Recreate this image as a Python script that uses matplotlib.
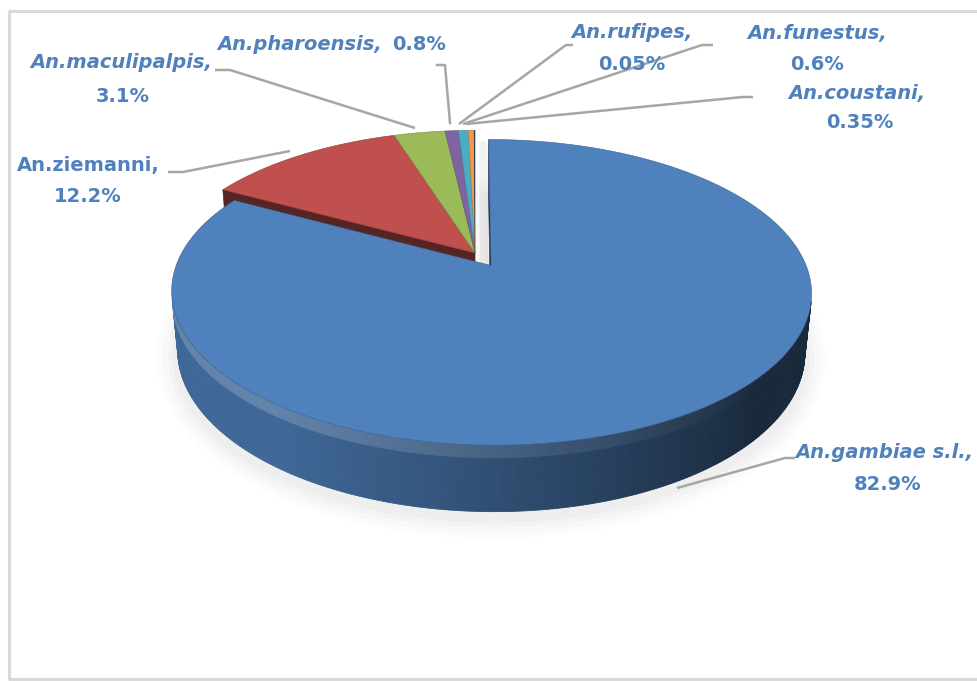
import numpy as np
import matplotlib
matplotlib.use("Agg")
import matplotlib.pyplot as plt
from matplotlib.patches import Polygon
from matplotlib.colors import to_rgb

# ---- data -------------------------------------------------------------
species = ["An.gambiae s.l.,", "An.ziemanni,", "An.maculipalpis,", "An.pharoensis,",
           "An.funestus,", "An.coustani,", "An.rufipes,"]
shares = [82.9, 12.2, 3.1, 0.8, 0.6, 0.35, 0.05]
pct_labels = ["82.9%", "12.2%", "3.1%", "0.8%", "0.6%", "0.35%", "0.05%"]
colors = ["#4F81BD", "#C0504D", "#9BBB59", "#8064A2", "#4BACC6", "#F79646", "#2C4D75"]
explode = [0.10, 0, 0, 0, 0, 0, 0]

# ---- 3D view settings -------------------------------------------------
ELEV = np.radians(27.6)
DIST = 5.14
FOCAL = 1595.0
THICK = 0.215
CX, CY = 475.0, 253.0
COS_E, SIN_E = np.cos(ELEV), np.sin(ELEV)
CAMERA = np.array([0.0, -DIST * COS_E, DIST * SIN_E])


def project(x, y, z):
    x, y, z = np.asarray(x, float), np.asarray(y, float), np.asarray(z, float)
    vy = y + DIST * COS_E
    vz = z - DIST * SIN_E
    depth = vy * COS_E - vz * SIN_E
    up = vy * SIN_E + vz * COS_E
    return CX + FOCAL * x / depth, CY - FOCAL * up / depth


def mix(c1, c2, t):
    a, b = np.array(to_rgb(c1)), np.array(to_rgb(c2))
    return tuple(a + (b - a) * t)


fig = plt.figure(figsize=(9.77, 6.81), dpi=100)
ax = fig.add_axes([0, 0, 1, 1])
ax.set_xlim(0, 977)
ax.set_ylim(681, 0)
ax.axis("off")

# chart frame (runs off the right edge)
ax.plot([1000, 8.5, 8.5, 1000], [10.5, 10.5, 678.5, 678.5], color="#d9d9d9", lw=2.2, zorder=0)

# ---- slice geometry ---------------------------------------------------
total = float(sum(shares))
cum = np.concatenate([[0], np.cumsum(shares)]) / total
n_sl = len(shares)
slices = []
for i, v in enumerate(shares):
    t1 = np.radians(90 - 360 * cum[i])       # start (larger angle)
    t2 = np.radians(90 - 360 * cum[i + 1])   # end (clockwise)
    mid = 0.5 * (t1 + t2)
    off = explode[i] * np.array([np.cos(mid), np.sin(mid)])
    slices.append(dict(i=i, t1=t1, t2=t2, off=off))

LIGHT = np.array([-1.0, -0.2])
LIGHT /= np.linalg.norm(LIGHT)


def shade(i, n):
    base = colors[i]
    dark = mix(base, "#000000", 0.68)
    light = mix(base, "#000000", 0.2)
    t = np.clip(0.45 + 0.75 * np.dot(n, LIGHT), 0, 1)
    return mix(dark, light, t), t


def draw_shadow(s):
    # soft drop shadow under the base of a slice
    ox, oy = s["off"]
    th = np.linspace(s["t1"], s["t2"], 200)
    xs = np.concatenate([[ox], ox + np.cos(th)])
    ys = np.concatenate([[oy], oy + np.sin(th)])
    px, py = project(xs, ys, np.full_like(xs, -THICK))
    py = py + 6
    for lw, a in ((30, 0.02), (22, 0.03), (14, 0.035), (7, 0.045)):
        ax.add_patch(Polygon(np.column_stack([px, py]), closed=True, facecolor="none",
                             edgecolor="#808080", lw=lw, alpha=a, joinstyle="round", zorder=1))
    # faint shade in the gap along the vertical cut
    gx, gy = project([ox - 0.02, ox - 0.02, ox - 0.02], [oy, oy + 0.45, oy + 0.95], [-THICK, -THICK, 0])
    ax.plot(gx, gy, color="#9a9a9a", lw=6, alpha=0.12, solid_capstyle="round", zorder=1)


def draw_walls(s):
    i, t1, t2 = s["i"], s["t1"], s["t2"]
    ox, oy = s["off"]
    # radial cut faces, only where the neighbouring slice is pulled apart
    prev_i, next_i = (i - 1) % n_sl, (i + 1) % n_sl
    for ang, nang, nb in ((t1, t1 + np.pi / 2, prev_i), (t2, t2 - np.pi / 2, next_i)):
        if explode[nb] == explode[i]:
            continue
        n = np.array([np.cos(nang), np.sin(nang)])
        p = np.array([ox + 0.5 * np.cos(ang), oy + 0.5 * np.sin(ang)])
        if np.dot(CAMERA[:2] - p, n) <= 0:
            continue
        xs = [ox, ox + np.cos(ang), ox + np.cos(ang), ox]
        ys = [oy, oy + np.sin(ang), oy + np.sin(ang), oy]
        zs = [0, 0, -THICK, -THICK]
        px, py = project(xs, ys, zs)
        c = mix(colors[i], "#000000", 0.55)
        ax.add_patch(Polygon(np.column_stack([px, py]), closed=True, facecolor=c,
                             edgecolor=c, lw=0.5, zorder=2))
    # outer curved wall, drawn in thin strips
    th = np.linspace(t2, t1, max(4, int(abs(t1 - t2) / np.radians(0.8))))
    for a, b in zip(th[:-1], th[1:]):
        m = 0.5 * (a + b)
        n = np.array([np.cos(m), np.sin(m)])
        p = np.array([ox + n[0], oy + n[1]])
        if np.dot(CAMERA[:2] - p, n) <= 0:
            continue
        c, t = shade(i, n)
        rim = mix(c, "#ffffff", 0.18 * t)
        xs = [ox + np.cos(a), ox + np.cos(b), ox + np.cos(b), ox + np.cos(a)]
        ys = [oy + np.sin(a), oy + np.sin(b), oy + np.sin(b), oy + np.sin(a)]
        for z0, z1, col in ((-0.04, -THICK, c), (0.0, -0.04, rim)):
            px, py = project(xs, ys, [z0, z0, z1, z1])
            ax.add_patch(Polygon(np.column_stack([px, py]), closed=True, facecolor=col,
                                 edgecolor=col, lw=0.6, zorder=2))


def draw_top(s):
    i = s["i"]
    ox, oy = s["off"]
    th = np.linspace(s["t1"], s["t2"], max(3, int(abs(s["t1"] - s["t2"]) / np.radians(0.5))))
    xs = np.concatenate([[ox], ox + np.cos(th)])
    ys = np.concatenate([[oy], oy + np.sin(th)])
    px, py = project(xs, ys, np.zeros_like(xs))
    ax.add_patch(Polygon(np.column_stack([px, py]), closed=True, facecolor=colors[i],
                         edgecolor=mix(colors[i], "#000000", 0.25), lw=0.4, zorder=3))


still = [s for s in slices if explode[s["i"]] == 0]
moved = sorted([s for s in slices if explode[s["i"]] != 0], key=lambda s: -s["off"][1])

for s in moved:
    draw_shadow(s)
for s in still:
    draw_walls(s)
for s in still:
    draw_top(s)
for s in moved:
    draw_walls(s)
    draw_top(s)

# ---- labels -----------------------------------------------------------
TXT = "#4f81bd"
LINE = "#a6a6a6"
FONT = ["DejaVu Sans"]
FS = 14

# (name centre, pct centre, leader polyline, name italic)
label_layout = {
    0: ((884, 452), (888, 484), [(795, 458), (785, 458), (677, 488)], True),
    1: ((88, 165), (88, 196), [(168, 172), (183, 172), (290, 151)], False),
    2: ((121, 63), (123, 96), [(215, 70), (230, 70), (415, 128)], True),
    4: ((817, 33), (817, 64), [(713, 45), (702, 45), (463, 124)], True),
    5: ((857, 93), (860, 122), [(753, 97), (743, 97), (466, 124)], True),
    6: ((632, 33), (632, 64), [(573, 45), (566, 45), (459, 124)], True),
}
for i, (p_name, p_pct, pts, ital) in label_layout.items():
    xs, ys = zip(*pts)
    ax.plot(xs, ys, color=LINE, lw=1.8, zorder=4, solid_capstyle="butt")
    ax.text(*p_name, species[i], ha="center", va="center", fontsize=FS, color=TXT,
            fontweight="bold", style="italic" if ital else "normal", family=FONT, zorder=5)
    ax.text(*p_pct, pct_labels[i], ha="center", va="center", fontsize=FS, color=TXT,
            fontweight="bold", family=FONT, zorder=5)

# single-line label
ax.plot([437, 445, 450], [65, 65, 123], color=LINE, lw=1.8, zorder=4)
ax.text(382, 45, species[3], ha="right", va="center", fontsize=FS, color=TXT,
        fontweight="bold", style="italic", family=FONT, zorder=5)
ax.text(392, 45, pct_labels[3], ha="left", va="center", fontsize=FS, color=TXT,
        fontweight="bold", family=FONT, zorder=5)

fig.savefig("out.png", dpi=100, facecolor="white")
